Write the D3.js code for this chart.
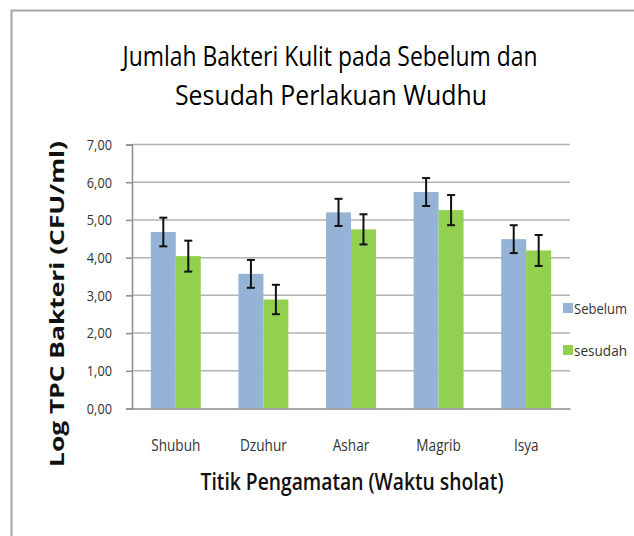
<!DOCTYPE html>
<html>
<head>
<meta charset="utf-8">
<script src="https://cdn.jsdelivr.net/npm/d3@7"></script>
<style>
  body { margin: 0; background: #fff; }
  text { font-family: "Open Sans", sans-serif; }
</style>
</head>
<body>
<div id="chart"></div>
<script>
// Chart data
const categories = ["Shubuh", "Dzuhur", "Ashar", "Magrib", "Isya"];
const seriesNames = ["Sebelum", "sesudah"];
const sebelum = [4.68, 3.57, 5.20, 5.74, 4.49];
const sesudah = [4.04, 2.89, 4.75, 5.26, 4.19];
const errSebelum = [0.38, 0.37, 0.36, 0.37, 0.37];
const errSesudah = [0.41, 0.39, 0.40, 0.40, 0.41];
const yTicks = [0, 1, 2, 3, 4, 5, 6, 7];
const colors = ["#95b3d7", "#92d050"];

const width = 634, height = 536;
const margin = {top: 144.5, right: 64, bottom: 127.5, left: 132};

// squeeze text horizontally so it looks like a narrow (Calibri-ish) face
function condense(sel, factor) {
  sel.each(function() {
    const w = this.getComputedTextLength();
    d3.select(this).attr("textLength", w * factor).attr("lengthAdjust", "spacingAndGlyphs");
  });
}

const svg = d3.select("#chart")
  .append("svg")
  .attr("width", width)
  .attr("height", height);

// outer frame of the chart area
svg.append("rect")
  .attr("x", 11.5).attr("y", 10.5)
  .attr("width", 640).attr("height", 560)
  .attr("fill", "none")
  .attr("stroke", "#a6a6a6")
  .attr("stroke-width", 2);

const x0 = d3.scaleBand()
  .domain(categories)
  .range([margin.left, width - margin.right])
  .paddingInner(0.43)
  .paddingOuter(0.215);

const x1 = d3.scaleBand()
  .domain(seriesNames)
  .range([0, x0.bandwidth()]);

const y = d3.scaleLinear()
  .domain([0, 7])
  .range([height - margin.bottom, margin.top]);

// gridlines
svg.append("g")
  .selectAll("line")
  .data(yTicks.filter(d => d > 0))
  .enter()
  .append("line")
    .attr("x1", margin.left)
    .attr("x2", width - margin.right)
    .attr("y1", d => y(d))
    .attr("y2", d => y(d))
    .attr("stroke", "#b3b3b3")
    .attr("stroke-width", 1.5);

// y axis
const yAxis = svg.append("g")
  .attr("transform", `translate(${margin.left},0)`)
  .call(d3.axisLeft(y).tickValues(yTicks).tickSize(6).tickPadding(14)
    .tickFormat(d => d3.format(".2f")(d).replace(".", ",")));
yAxis.select(".domain").attr("stroke", "#8c8c8c").attr("stroke-width", 1.5);
yAxis.selectAll(".tick line").attr("stroke", "#8c8c8c").attr("stroke-width", 1.5);
yAxis.selectAll("text")
  .attr("font-family", "'Open Sans', sans-serif")
  .attr("font-size", "15px")
  .attr("fill", "#333")
  .call(condense, 0.85);

// bars
const rows = categories.map((c, i) => ({
  cat: c,
  vals: [
    {name: seriesNames[0], v: sebelum[i], e: errSebelum[i]},
    {name: seriesNames[1], v: sesudah[i], e: errSesudah[i]}
  ]
}));

const groups = svg.append("g")
  .selectAll("g")
  .data(rows)
  .enter()
  .append("g")
    .attr("transform", d => `translate(${x0(d.cat)},0)`);

groups.selectAll("rect")
  .data(d => d.vals)
  .enter()
  .append("rect")
    .attr("x", d => x1(d.name))
    .attr("y", d => y(d.v))
    .attr("width", x1.bandwidth())
    .attr("height", d => y(0) - y(d.v))
    .attr("fill", (d, i) => colors[i]);

// error bars
const eb = groups.selectAll("g.err")
  .data(d => d.vals)
  .enter()
  .append("g")
    .attr("class", "err")
    .attr("stroke", "#111")
    .attr("stroke-width", 2);

eb.append("line")
  .attr("x1", d => x1(d.name) + x1.bandwidth() / 2)
  .attr("x2", d => x1(d.name) + x1.bandwidth() / 2)
  .attr("y1", d => y(d.v + d.e))
  .attr("y2", d => y(d.v - d.e));
eb.append("line")
  .attr("x1", d => x1(d.name) + x1.bandwidth() / 2 - 4)
  .attr("x2", d => x1(d.name) + x1.bandwidth() / 2 + 4)
  .attr("y1", d => y(d.v + d.e))
  .attr("y2", d => y(d.v + d.e));
eb.append("line")
  .attr("x1", d => x1(d.name) + x1.bandwidth() / 2 - 4)
  .attr("x2", d => x1(d.name) + x1.bandwidth() / 2 + 4)
  .attr("y1", d => y(d.v - d.e))
  .attr("y2", d => y(d.v - d.e));

// x axis
const xAxis = svg.append("g")
  .attr("transform", `translate(0,${y(0)})`)
  .call(d3.axisBottom(x0).tickSize(0).tickPadding(30));
xAxis.select(".domain").attr("stroke", "#8c8c8c").attr("stroke-width", 1.5);
xAxis.selectAll("text")
  .attr("font-family", "'Open Sans', sans-serif")
  .attr("font-size", "17px")
  .attr("fill", "#333")
  .call(condense, 0.8);

// titles
svg.append("text")
  .attr("x", 330).attr("y", 66)
  .attr("text-anchor", "middle")
  .attr("font-size", "27px")
  .attr("fill", "#000")
  .attr("textLength", 415).attr("lengthAdjust", "spacingAndGlyphs")
  .text("Jumlah Bakteri Kulit pada Sebelum dan");
svg.append("text")
  .attr("x", 331).attr("y", 105)
  .attr("text-anchor", "middle")
  .attr("font-size", "27px")
  .attr("fill", "#000")
  .attr("textLength", 312).attr("lengthAdjust", "spacingAndGlyphs")
  .text("Sesudah Perlakuan Wudhu");

svg.append("text")
  .attr("transform", "translate(64,304) rotate(-90)")
  .attr("text-anchor", "middle")
  .attr("font-family", "'DejaVu Sans', sans-serif")
  .attr("font-weight", "bold")
  .attr("font-size", "20px")
  .attr("fill", "#111")
  .attr("textLength", 326).attr("lengthAdjust", "spacingAndGlyphs")
  .text("Log TPC Bakteri (CFU/ml)");

svg.append("text")
  .attr("x", 352).attr("y", 490)
  .attr("text-anchor", "middle")
  .attr("font-size", "23px")
  .attr("font-weight", 600)
  .attr("fill", "#111")
  .attr("textLength", 303).attr("lengthAdjust", "spacingAndGlyphs")
  .text("Titik Pengamatan (Waktu sholat)");

// legend
const legend = svg.append("g")
  .selectAll("g")
  .data(seriesNames)
  .enter()
  .append("g")
    .attr("transform", (d, i) => `translate(563,${303 + i * 42})`);
legend.append("rect")
  .attr("width", 10).attr("height", 10)
  .attr("fill", (d, i) => colors[i]);
legend.append("text")
  .attr("x", 11).attr("y", 10.5)
  .attr("font-size", "15px")
  .attr("fill", "#333")
  .attr("textLength", 53).attr("lengthAdjust", "spacingAndGlyphs")
  .text(d => d);
</script>
</body>
</html>
